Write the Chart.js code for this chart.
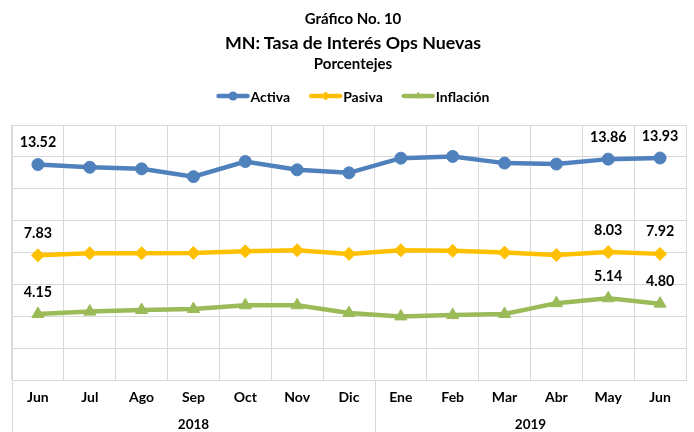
<!DOCTYPE html>
<html>
<head>
<meta charset="utf-8">
<script src="https://cdn.jsdelivr.net/npm/chart.js@4/dist/chart.umd.min.js"></script>
<style>
body { margin: 0; background: #fff; }
#wrap { position: relative; width: 694px; height: 432px; font-family: Lato, sans-serif; font-weight: bold; color: #000; }
#wrap canvas { position: absolute; left: 0; top: 0; }
.ttl { position: absolute; left: 12px; width: 682px; text-align: center; line-height: 20px; white-space: nowrap; }
</style>
</head>
<body>
<div id="wrap">
  <canvas id="myChart" width="694" height="432"></canvas>
  <div class="ttl" style="top:8px;font-size:15px">Gráfico No. 10</div>
  <div class="ttl" style="top:32px;font-size:17.8px">MN: Tasa de Interés Ops Nuevas</div>
  <div class="ttl" style="top:53px;font-size:15px">Porcentejes</div>
</div>
<script>
var months = ["Jun", "Jul", "Ago", "Sep", "Oct", "Nov", "Dic", "Ene", "Feb", "Mar", "Abr", "May", "Jun"];
var years = ["2018", "2019"];
var yearFirstMonth = [0, 7];   // index where each year starts

var activa    = [13.52, 13.35, 13.25, 12.76, 13.71, 13.19, 13.00, 13.92, 14.03, 13.61, 13.55, 13.86, 13.93];
var pasiva    = [7.83, 7.96, 7.96, 7.98, 8.08, 8.15, 7.92, 8.15, 8.11, 8.00, 7.85, 8.03, 7.92];
var inflacion = [4.15, 4.30, 4.40, 4.46, 4.70, 4.70, 4.21, 4.00, 4.08, 4.15, 4.83, 5.14, 4.80];

var labeledPoints = [0, 11, 12];

var gridColor = "#d9d9d9";
var fontName = "Lato";

// value labels above first / last points
var valueLabels = {
    id: "valueLabels",
    afterDatasetsDraw: function(chart) {
        var ctx = chart.ctx;
        ctx.save();
        ctx.font = "bold 14.3px " + fontName;
        ctx.fillStyle = "#000";
        ctx.textAlign = "center";
        ctx.textBaseline = "middle";
        chart.data.datasets.forEach(function(ds, i) {
            var meta = chart.getDatasetMeta(i);
            labeledPoints.forEach(function(idx) {
                var pt = meta.data[idx];
                ctx.fillText(ds.data[idx].toFixed(2), pt.x, pt.y - 22);
            });
        });
        ctx.restore();
    }
};

// year row under the month labels + the long separator lines
var yearRow = {
    id: "yearRow",
    afterDraw: function(chart) {
        var ctx = chart.ctx;
        var area = chart.chartArea;
        var x = chart.scales.x;
        var bounds = [area.left];
        for (let i = 1; i < yearFirstMonth.length; i++) {
            let k = yearFirstMonth[i];
            bounds.push((x.getPixelForValue(k - 1) + x.getPixelForValue(k)) / 2);
        }
        bounds.push(area.right);

        ctx.save();
        ctx.strokeStyle = gridColor;
        ctx.lineWidth = 1;
        for (let i = 0; i < bounds.length - 1; i++) {
            let bx = Math.round(bounds[i]) + 0.5;
            ctx.beginPath();
            ctx.moveTo(bx, area.bottom);
            ctx.lineTo(bx, chart.height);
            ctx.stroke();
        }
        ctx.font = "bold 13.5px " + fontName;
        ctx.fillStyle = "#000";
        ctx.textAlign = "center";
        ctx.textBaseline = "middle";
        for (let i = 0; i < years.length; i++) {
            ctx.fillText(years[i], (bounds[i] + bounds[i + 1]) / 2, 425);
        }
        ctx.restore();
    }
};

// legend row: line with marker, then the name
var legendRow = {
    id: "legendRow",
    afterDraw: function(chart) {
        var ctx = chart.ctx;
        var area = chart.chartArea;
        var lineW = 33, gap = 1, space = 19, y = 96;
        ctx.save();
        ctx.font = "bold 14px " + fontName;
        var items = chart.data.datasets.map(function(ds) {
            return { ds: ds, w: lineW + gap + ctx.measureText(ds.label).width };
        });
        var total = items.reduce(function(s, it) { return s + it.w; }, 0) + space * (items.length - 1);
        var lx = (area.left + area.right) / 2 - total / 2 + 4;
        items.forEach(function(it) {
            var ds = it.ds;
            ctx.strokeStyle = ds.borderColor;
            ctx.lineWidth = 4.5;
            ctx.lineCap = "round";
            ctx.beginPath();
            ctx.moveTo(lx + 2, y);
            ctx.lineTo(lx + lineW - 2, y);
            ctx.stroke();
            ctx.fillStyle = ds.borderColor;
            Chart.helpers.drawPoint(ctx, { pointStyle: ds.pointStyle, rotation: 0, borderWidth: 0, radius: 4.5 }, lx + lineW / 2, y);
            ctx.fillStyle = "#000";
            ctx.textAlign = "left";
            ctx.textBaseline = "middle";
            ctx.fillText(ds.label, lx + lineW + gap, y + 1);
            lx += it.w + space;
        });
        ctx.restore();
    }
};

function makeSeries(label, values, color, style, radius) {
    return {
        label: label,
        data: values,
        borderColor: color,
        backgroundColor: color,
        borderWidth: 4.5,
        tension: 0,
        pointStyle: style,
        pointRadius: radius,
        pointHoverRadius: radius,
        pointBorderWidth: 1,
        pointBackgroundColor: color,
        pointBorderColor: color
    };
}

window.addEventListener("load", function() {
    var ctx = document.getElementById("myChart");
    new Chart(ctx, {
        type: "line",
        data: {
            labels: months,
            datasets: [
                makeSeries("Activa", activa, "#4f81bd", "circle", 6),
                makeSeries("Pasiva", pasiva, "#ffc000", "rectRot", 6.5),
                makeSeries("Inflación", inflacion, "#9bbb59", "triangle", 7)
            ]
        },
        options: {
            responsive: false,
            animation: false,
            layout: { padding: { left: 12, right: 0, top: 125, bottom: 17 } },
            plugins: {
                legend: { display: false },
                title: { display: false },
                tooltip: { enabled: false }
            },
            scales: {
                x: {
                    type: "category",
                    offset: true,
                    grid: { color: gridColor, drawTicks: false, offset: true },
                    border: { color: gridColor },
                    ticks: {
                        color: "#000",
                        padding: 9,
                        maxRotation: 0,
                        autoSkip: false,
                        font: { family: fontName, size: 14, weight: "bold" }
                    }
                },
                y: {
                    min: 0,
                    max: 16,
                    ticks: { stepSize: 2, display: false },
                    grid: { color: gridColor, drawTicks: false },
                    border: { color: gridColor }
                }
            }
        },
        plugins: [valueLabels, yearRow, legendRow]
    });
});
</script>
</body>
</html>
